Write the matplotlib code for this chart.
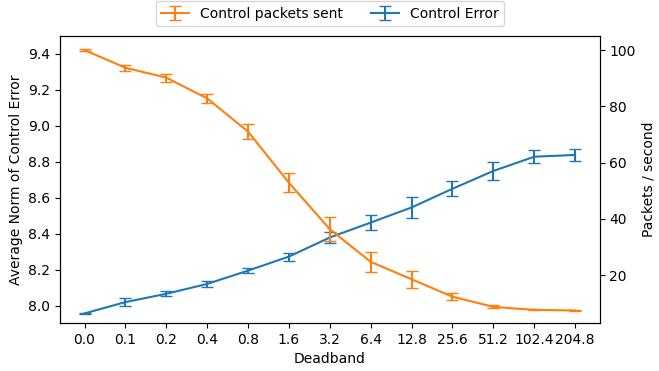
import numpy as np
import matplotlib
matplotlib.use("Agg")
import matplotlib.pyplot as plt

# deadband categories
deadband = ["0.0", "0.1", "0.2", "0.4", "0.8", "1.6", "3.2", "6.4",
            "12.8", "25.6", "51.2", "102.4", "204.8"]

# average norm of control error (left axis)
err_mean = [7.958, 8.021, 8.067, 8.122, 8.196, 8.274, 8.380,
            8.463, 8.547, 8.651, 8.750, 8.829, 8.839]
err_std = [0.004, 0.022, 0.014, 0.018, 0.014, 0.022, 0.030,
           0.042, 0.060, 0.042, 0.048, 0.037, 0.032]

# control packets per second (right axis)
pkt_mean = [100.0, 93.7, 90.2, 82.8, 71.0, 52.8, 36.3,
            24.7, 18.5, 12.3, 8.7, 7.6, 7.4]
pkt_std = [0.3, 1.0, 1.4, 1.5, 2.8, 3.4, 4.2,
           3.6, 3.0, 1.2, 0.5, 0.2, 0.2]

x = np.arange(len(deadband))

fig = plt.figure(figsize=(6.59, 3.71), dpi=100)
ax = fig.add_axes([0.091, 0.129, 0.819, 0.774])

# control error on the left axis
h_err = ax.errorbar(x, err_mean, yerr=err_std, color="tab:blue", capsize=4)
ax.set_ylim(7.904, 9.5)
ax.set_ylabel("Average Norm of Control Error")
ax.set_xlabel("Deadband")
ax.set_xticks(x)
ax.set_xticklabels(deadband)

# packets sent on the right axis
ax2 = ax.twinx()
h_pkt = ax2.errorbar(x, pkt_mean, yerr=pkt_std, color="tab:orange", capsize=4)
ax2.set_ylim(2.9, 105)
ax2.set_ylabel("Packets / second")

ax.legend([h_pkt, h_err], ["Control packets sent", "Control Error"],
          loc="lower center", bbox_to_anchor=(0.5, 1.01), ncol=2)

fig.savefig("out.png", dpi=100)
